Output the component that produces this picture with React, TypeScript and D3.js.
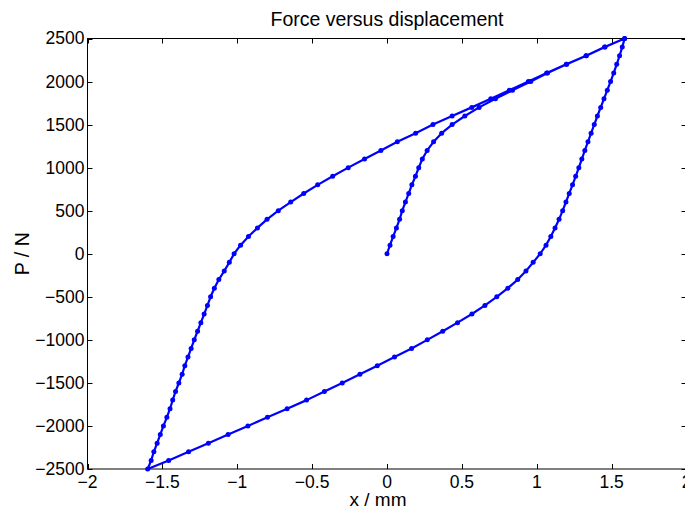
import React, { useEffect, useRef } from "react";
import * as d3 from "d3";

// Load levels (N) and measured displacements (mm) for each leg of the cycle
const initialLoad = [0, 100, 200, 300, 400, 500, 600, 700, 800, 900, 1000, 1100, 1200, 1300, 1400, 1500, 1600, 1700, 1800, 1900, 2000, 2100, 2200, 2300, 2400, 2500];
const initialDisp = [0, 0.02, 0.041, 0.063, 0.084, 0.102, 0.123, 0.145, 0.166, 0.19, 0.212, 0.236, 0.268, 0.311, 0.365, 0.435, 0.52, 0.615, 0.724, 0.838, 0.96, 1.072, 1.2, 1.331, 1.456, 1.587];

const unloadLoad = [2400, 2300, 2200, 2100, 2000, 1900, 1800, 1700, 1600, 1500, 1400, 1300, 1200, 1100, 1000, 900, 800, 700, 600, 500, 400, 300, 200, 100, 0,
  -100, -200, -300, -400, -500, -600, -700, -800, -900, -1000, -1100, -1200, -1300, -1400, -1500, -1600, -1700, -1800, -1900, -2000, -2100, -2200, -2300, -2400, -2500];
const unloadDisp = [1.571, 1.553, 1.534, 1.514, 1.493, 1.471, 1.449, 1.427, 1.405, 1.384, 1.363, 1.342, 1.321, 1.301, 1.281, 1.26, 1.239, 1.217, 1.195, 1.173, 1.149, 1.122, 1.094, 1.062, 1.023,
  0.976, 0.928, 0.873, 0.807, 0.733, 0.654, 0.567, 0.471, 0.372, 0.269, 0.164, 0.05, -0.065, -0.181, -0.299, -0.418, -0.537, -0.667, -0.798, -0.929, -1.061, -1.193, -1.325, -1.458, -1.598];

const reloadLoad = [-2400, -2300, -2200, -2100, -2000, -1900, -1800, -1700, -1600, -1500, -1400, -1300, -1200, -1100, -1000, -900, -800, -700, -600, -500, -400, -300, -200, -100, 0,
  100, 200, 300, 400, 500, 600, 700, 800, 900, 1000, 1100, 1200, 1300, 1400, 1500, 1600, 1700, 1800, 1900, 2000, 2100, 2200, 2300, 2400, 2500];
const reloadDisp = [-1.575, -1.557, -1.535, -1.514, -1.493, -1.47, -1.449, -1.431, -1.412, -1.39, -1.368, -1.35, -1.329, -1.308, -1.287, -1.265, -1.243, -1.221, -1.199, -1.178, -1.153, -1.123, -1.087, -1.053, -1.021,
  -0.978, -0.925, -0.865, -0.801, -0.726, -0.643, -0.556, -0.463, -0.363, -0.259, -0.15, -0.041, 0.069, 0.191, 0.307, 0.435, 0.566, 0.693, 0.817, 0.944, 1.066, 1.197, 1.329, 1.453, 1.587];

const xTicks = [-2, -1.5, -1, -0.5, 0, 0.5, 1, 1.5, 2];
const yTicks = [-2500, -2000, -1500, -1000, -500, 0, 500, 1000, 1500, 2000, 2500];

const W = 685;
const H = 507;
const FONT = "'Liberation Sans', Arial, Helvetica, sans-serif";

export default function App() {
  const ref = useRef<SVGSVGElement | null>(null);

  useEffect(() => {
    const svg = d3.select(ref.current);
    svg.selectAll("*").remove();

    const x = d3.scaleLinear().domain([-2, 2]).range([87.5, 686.5]);
    const y = d3.scaleLinear().domain([-2500, 2500]).range([469, 38.5]);

    const pts: [number, number][] = [];
    initialLoad.forEach((p, i) => pts.push([initialDisp[i], p]));
    unloadLoad.forEach((p, i) => pts.push([unloadDisp[i], p]));
    reloadLoad.forEach((p, i) => pts.push([reloadDisp[i], p]));

    const [x0, x1] = x.range();
    const [y0, y1] = y.range();

    // axes box
    const g = svg.append("g");
    g.append("rect")
      .attr("x", x0).attr("y", y1)
      .attr("width", x1 - x0).attr("height", y0 - y1)
      .attr("fill", "none").attr("stroke", "#000").attr("stroke-width", 1);

    const tl = 5;
    xTicks.forEach((t) => {
      const px = Math.round(x(t)) + 0.5;
      g.append("line").attr("x1", px).attr("x2", px).attr("y1", y0).attr("y2", y0 - tl).attr("stroke", "#000");
      g.append("line").attr("x1", px).attr("x2", px).attr("y1", y1).attr("y2", y1 + tl).attr("stroke", "#000");
      g.append("text")
        .attr("x", x(t)).attr("y", y0 + 19)
        .attr("text-anchor", "middle")
        .attr("font-family", FONT).attr("font-size", 17.5)
        .text(String(t).replace("-", "\u2212"));
    });
    yTicks.forEach((t) => {
      const py = Math.round(y(t)) + 0.5;
      g.append("line").attr("x1", x0).attr("x2", x0 + tl).attr("y1", py).attr("y2", py).attr("stroke", "#000");
      g.append("line").attr("x1", x1).attr("x2", x1 - tl).attr("y1", py).attr("y2", py).attr("stroke", "#000");
      g.append("text")
        .attr("x", x0 - 3).attr("y", y(t)).attr("dy", "0.34em")
        .attr("text-anchor", "end")
        .attr("font-family", FONT).attr("font-size", 17.5)
        .text(String(t).replace("-", "\u2212"));
    });

    const line = d3.line<[number, number]>().x((d) => x(d[0])).y((d) => y(d[1]));
    svg.append("path")
      .attr("d", line(pts) || "")
      .attr("fill", "none")
      .attr("stroke", "#0000ff")
      .attr("stroke-width", 2.2)
      .attr("stroke-linejoin", "round");

    svg.append("g")
      .selectAll("circle")
      .data(pts)
      .join("circle")
      .attr("cx", (d) => x(d[0]))
      .attr("cy", (d) => y(d[1]))
      .attr("r", 2.5)
      .attr("fill", "#0000ff");

    svg.append("text")
      .attr("x", (x0 + x1) / 2).attr("y", 26)
      .attr("text-anchor", "middle")
      .attr("font-family", FONT).attr("font-size", 19.5)
      .text("Force versus displacement");

    svg.append("text")
      .attr("x", 378).attr("y", 506)
      .attr("text-anchor", "middle")
      .attr("font-family", FONT).attr("font-size", 19)
      .text("x / mm");

    svg.append("text")
      .attr("transform", `translate(29, ${(y0 + y1) / 2}) rotate(-90)`)
      .attr("text-anchor", "middle")
      .attr("font-family", FONT).attr("font-size", 19.5)
      .text("P / N");
  }, []);

  return (
    <div style={{ position: "absolute", left: 0, top: 0, width: W, height: H, background: "#fff" }}>
      <svg ref={ref} width={W} height={H} style={{ display: "block" }} />
    </div>
  );
}
